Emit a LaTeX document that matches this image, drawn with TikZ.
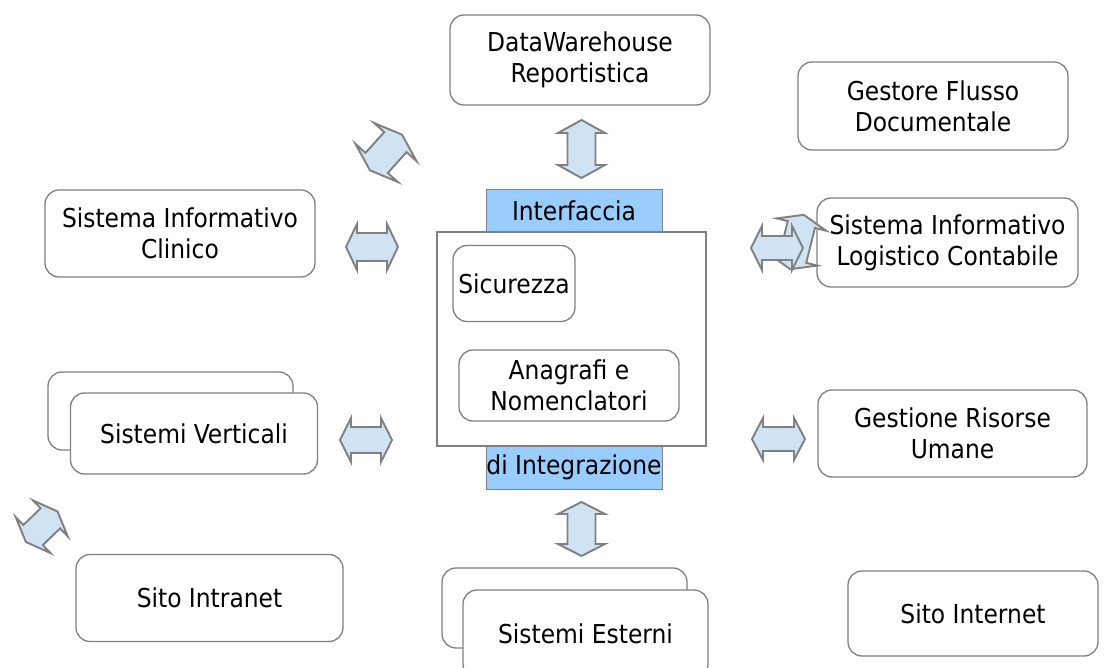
\documentclass[tikz,border=0pt]{standalone}
\usepackage{fontspec}
\setmainfont{DejaVu Sans Condensed}
\definecolor{linegray}{RGB}{128,128,128}
\definecolor{arrowfill}{RGB}{207,227,242}
\definecolor{ifblue}{RGB}{153,204,255}
\tikzset{
  box/.style={draw=linegray, line width=1.3pt, rounded corners=14pt, fill=white, align=center, inner sep=0pt},
  plainbox/.style={draw=linegray, line width=1.3pt, fill=white, inner sep=0pt},
  bluebox/.style={draw=linegray, line width=1pt, fill=ifblue, inner sep=0pt, align=center},
  barrow/.style={draw=linegray, line width=1.9pt, fill=arrowfill, line join=miter},
}
% #1 cx, #2 cy, #3 angle, #4 half length, #5 head length, #6 head half width, #7 shaft half width
\newcommand{\blockarrow}[7]{%
  \draw[barrow, shift={(#1,#2)}, rotate=#3] (#4,0) -- ({#4-#5},#6) -- ({#4-#5},#7) -- ({-#4+#5},#7) -- ({-#4+#5},#6) -- ({-#4},0) -- ({-#4+#5},{-#6}) -- ({-#4+#5},{-#7}) -- ({#4-#5},{-#7}) -- ({#4-#5},{-#6}) -- cycle;}
\begin{document}
\begin{tikzpicture}[x=1pt, y=-1pt, font=\fontsize{26}{31}\selectfont]
\useasboundingbox[fill=white] (0,0) rectangle (1106,668);

% outer boxes
\node[box, minimum width=260pt, minimum height=90pt] (dw) at (580,60) {DataWarehouse\\Reportistica};
\node[box, minimum width=270pt, minimum height=88pt] (gfd) at (933,106) {Gestore Flusso\\Documentale};
\node[box, minimum width=270pt, minimum height=87pt] (sic) at (180,233.5) {Sistema Informativo\\Clinico};
\node[box, minimum width=261pt, minimum height=89pt] (silc) at (947.5,242.5) {Sistema Informativo\\Logistico Contabile};
\node[box, minimum width=245pt, minimum height=78pt] (svback) at (170.5,411) {};
\node[box, minimum width=247pt, minimum height=81pt] (sv) at (194,433.5) {Sistemi Verticali};
\node[box, minimum width=269pt, minimum height=87pt] (gru) at (952.5,433.5) {Gestione Risorse\\Umane};
\node[box, minimum width=267pt, minimum height=87pt] (sitoin) at (209.5,598) {Sito Intranet};
\node[box, minimum width=245pt, minimum height=80pt] (seback) at (564.5,608) {};
\node[box, minimum width=245pt, minimum height=88pt] (se) at (585.5,634) {Sistemi Esterni};
\node[box, minimum width=250pt, minimum height=85pt] (sitoex) at (973,613.5) {Sito Internet};

% central block
\node[bluebox, minimum width=176pt, minimum height=42pt] (intf) at (574,211) {Interfaccia};
\node[bluebox, minimum width=176pt, minimum height=43pt] (integ) at (574,467.5) {di Integrazione};
\node[plainbox, minimum width=269pt, minimum height=214pt] (core) at (571.5,339) {};
\node[box, minimum width=122pt, minimum height=76pt] (sicur) at (514,283.5) {Sicurezza};
\node[box, minimum width=220pt, minimum height=71pt] (anag) at (569,385.5) {Anagrafi e\\Nomenclatori};

% block arrows
\blockarrow{581.5}{149}{90}{29}{13}{23.5}{14}
\blockarrow{581.5}{529}{90}{27}{12}{23.5}{14}
\blockarrow{372}{247}{0}{26}{11}{23}{14}
\blockarrow{366}{440}{0}{26}{11}{22}{13}
\blockarrow{386}{152.5}{48}{24}{10}{28.5}{15}
\blockarrow{41.7}{526.7}{44}{22}{10}{25}{14}
\blockarrow{797}{242}{76}{28}{10}{25.5}{14}
\blockarrow{777}{248}{0}{26}{11}{22}{12}
\blockarrow{778.5}{439}{0}{26.5}{11}{21}{12}
\end{tikzpicture}
\end{document}
